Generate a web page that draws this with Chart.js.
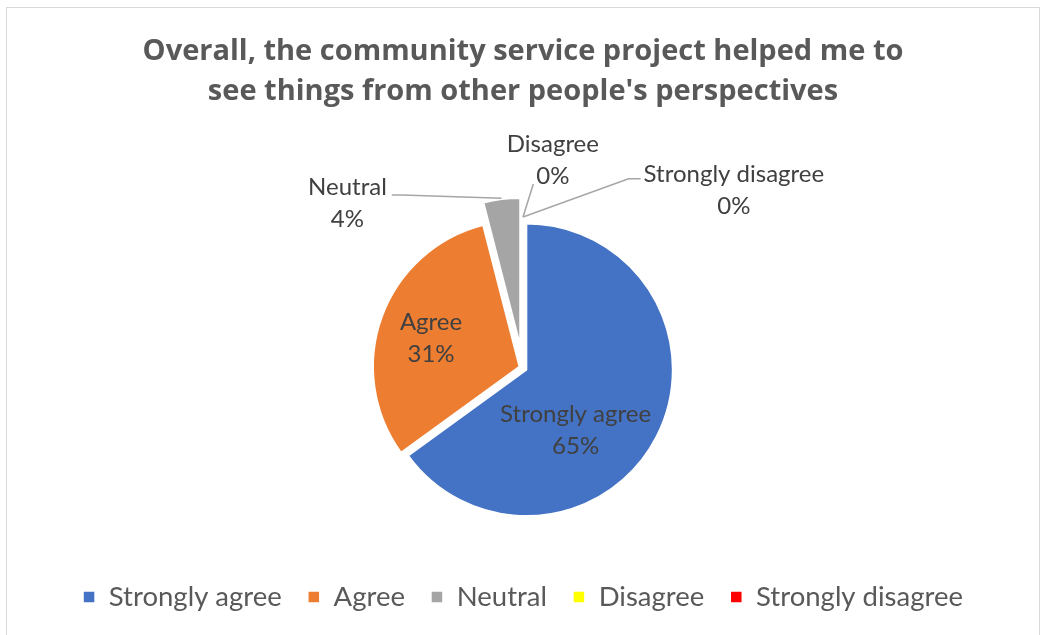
<!DOCTYPE html>
<html>
<head>
<meta charset="utf-8">
<script src="https://cdn.jsdelivr.net/npm/chart.js@4.4.0/dist/chart.umd.min.js"></script>
<style>
  html, body { margin: 0; padding: 0; background: #fff; overflow: hidden; }
  #wrap { position: relative; width: 1040px; height: 635px; overflow: hidden; }
  #frame { position: absolute; left: 6px; top: 7px; width: 1034px; height: 700px; border: 1px solid #d9d9d9; box-sizing: border-box; }
  canvas { position: absolute; left: 0; top: 0; }
</style>
</head>
<body>
<div id="wrap">
  <div id="frame"></div>
  <canvas id="myChart" width="1040" height="635"></canvas>
</div>
<script>
var labels = ["Strongly agree", "Agree", "Neutral", "Disagree", "Strongly disagree"];
var values = [65, 31, 4, 0, 0];
var sliceColors = ["#4472C4", "#ED7D31", "#A5A5A5", "#FFFF00", "#FF0000"];
var titleLines = ["Overall, the community service project helped me to", "see things from other people's perspectives"];

// how far each slice is pulled out of the pie (px)
var explode = [4, 4, 24, 0, 0];
// data label placement: angle in degrees (clockwise from 3 o'clock) and distance as a share of the radius
var labelAngle = [52.9, 193.2, 221.8, 278.5, 321.1];
var labelDist = [0.597, 0.647, 1.613, 1.385, 1.856];
// side of the label the leader line leaves from (null = label sits inside, no leader)
var leaderSide = [null, null, "right", "bottom", "left"];

var explodePlugin = {
    id: "explode",
    afterDatasetUpdate: function (chart, args) {
        args.meta.data.forEach(function (arc, i) {
            var mid = (arc.startAngle + arc.endAngle) / 2;
            arc.x += Math.cos(mid) * explode[i];
            arc.y += Math.sin(mid) * explode[i];
        });
    }
};

var labelPlugin = {
    id: "sliceLabels",
    afterDatasetsDraw: function (chart) {
        var ctx = chart.ctx;
        var meta = chart.getDatasetMeta(0);
        var area = chart.chartArea;
        var cx = (area.left + area.right) / 2;
        var cy = (area.top + area.bottom) / 2;
        var total = values.reduce(function (a, b) { return a + b; }, 0);

        ctx.save();
        ctx.font = "24px Lato";
        ctx.textAlign = "center";
        ctx.textBaseline = "alphabetic";

        meta.data.forEach(function (arc, i) {
            var r = arc.outerRadius;
            var a = labelAngle[i] * Math.PI / 180;
            var x = cx + Math.cos(a) * r * labelDist[i];
            var y = cy + Math.sin(a) * r * labelDist[i];
            var pct = Math.round(values[i] / total * 100) + "%";
            var w1 = ctx.measureText(labels[i]).width;
            var w2 = ctx.measureText(pct).width;
            var y1 = y - 16, y2 = y + 16;

            if (leaderSide[i]) {
                var mid = (arc.startAngle + arc.endAngle) / 2;
                var reach = r + (values[i] ? 1 : 5);
                var tx = arc.x + Math.cos(mid) * reach;
                var ty = arc.y + Math.sin(mid) * reach;
                ctx.beginPath();
                if (leaderSide[i] === "right") {
                    var sx = x + w1 / 2 + 5;
                    ctx.moveTo(sx, y1);
                    ctx.lineTo(sx + 10, y1);
                } else if (leaderSide[i] === "left") {
                    var lx = x - w1 / 2 - 3;
                    ctx.moveTo(lx, y1 - 3);
                    ctx.lineTo(lx - 12, y1 - 3);
                } else {
                    ctx.moveTo(x - w2 / 2 - 3, y2);
                }
                ctx.lineTo(tx, ty);
                ctx.strokeStyle = "#A6A6A6";
                ctx.lineWidth = 1.5;
                ctx.stroke();
            }

            ctx.fillStyle = "#404040";
            ctx.fillText(labels[i], x, y1);
            ctx.fillText(pct, x, y2);
        });
        ctx.restore();
    }
};

new Chart("myChart", {
    type: "pie",
    data: {
        labels: labels,
        datasets: [{
            data: values,
            backgroundColor: sliceColors,
            borderColor: "#ffffff",
            borderWidth: 1.5,
            radius: 146
        }]
    },
    options: {
        responsive: false,
        animation: false,
        events: [],
        layout: {
            padding: { left: 6, right: 0, top: 0, bottom: 14.25 }
        },
        plugins: {
            title: {
                display: true,
                text: titleLines,
                color: "#595959",
                font: { family: "'Open Sans'", size: 29, weight: "bold", lineHeight: "40px" },
                padding: { top: 32, bottom: 66.75 }
            },
            legend: {
                position: "bottom",
                labels: {
                    color: "#595959",
                    font: { family: "Lato", size: 27.5 },
                    boxWidth: 12,
                    boxHeight: 12,
                    padding: 26
                }
            },
            tooltip: { enabled: false }
        }
    },
    plugins: [explodePlugin, labelPlugin]
});
</script>
</body>
</html>
